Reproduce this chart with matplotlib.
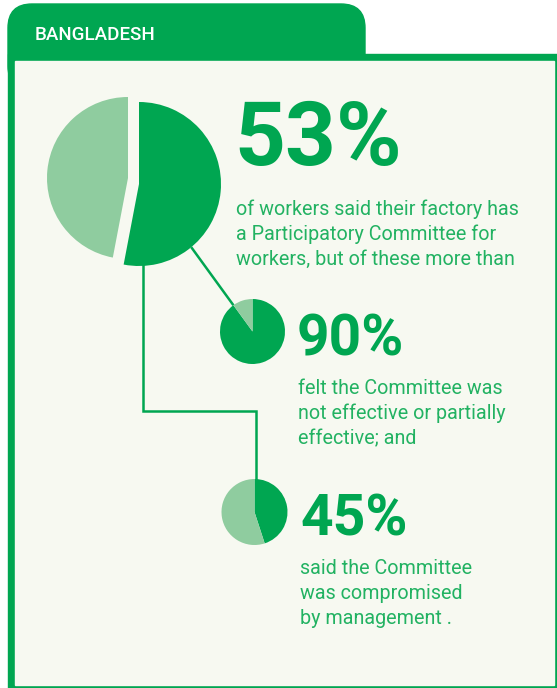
import numpy as np
import matplotlib.pyplot as plt
from matplotlib.patches import Rectangle, FancyBboxPatch

W, H = 557, 688
DARK, LIGHT, BG, TXT = '#00a651', '#8fcc9f', '#f7f9f1', '#22b262'

country = 'BANGLADESH'
has_committee = [53, 47]      # yes / no
not_effective = [90, 10]      # not / partly effective vs effective
compromised = [45, 55]        # compromised vs not
headlines = ['53%', '90%', '45%']
captions = [
    ['of workers said their factory has',
     'a Participatory Committee for',
     'workers, but of these more than'],
    ['felt the Committee was',
     'not effective or partially',
     'effective; and'],
    ['said the Committee',
     'was compromised',
     'by management .'],
]

plt.rcParams['font.family'] = ['Roboto', 'DejaVu Sans']

fig = plt.figure(figsize=(W / 100, H / 100), dpi=100, facecolor='white')
ax = fig.add_axes([0, 0, 1, 1])


def Y(y):
    # image pixel rows (top-down) -> data y
    return H - y


# frame and tab
ax.add_patch(Rectangle((8, Y(688)), W - 8, 688 - 54, color=DARK, zorder=0))
ax.add_patch(FancyBboxPatch((8, Y(90)), 357, 86, boxstyle='round,pad=0,rounding_size=24',
                            color=DARK, zorder=0.5))
ax.add_patch(Rectangle((15, Y(685)), 554 - 15, 685 - 61, color=BG, zorder=1))
ax.text(35, Y(40), country, color='white', fontsize=13.5, fontweight='medium',
        va='baseline', ha='left', zorder=5)

# big pie, the two slices pulled apart
pie_kw = dict(startangle=90, counterclock=False, wedgeprops=dict(linewidth=0), frame=False)
ax.pie(has_committee, center=(139, Y(184)), radius=82, colors=[DARK, 'none'], **pie_kw)
ax.pie(has_committee, center=(128, Y(178)), radius=81, colors=['none', LIGHT], **pie_kw)

# small pies
c1, r1 = np.array([252.5, Y(331.5)]), 32.5
c2, r2 = np.array([254.5, Y(512)]), 33
ax.pie(not_effective, center=tuple(c1), radius=r1, colors=[DARK, LIGHT], **pie_kw)
ax.pie(compromised, center=tuple(c2), radius=r2, colors=[DARK, LIGHT], **pie_kw)

# connector 1: along the boundary of the 10% slice, up to the big pie's edge
ang = np.deg2rad(90 + not_effective[1] / 100 * 360)
d = np.array([np.cos(ang), np.sin(ang)])
big_c, big_r = np.array([139, Y(184)]), 82
f = c1 - big_c
b = f @ d
t = -b - np.sqrt(b * b - (f @ f - big_r ** 2))
p0 = c1 + r1 * d
p1 = c1 + t * d
ax.plot([p0[0], p1[0]], [p0[1], p1[1]], color=DARK, lw=1.8, zorder=1.5,
        solid_capstyle='butt')

# connector 2: elbow from big pie to the bottom pie
ax.plot([143, 143, 255.5, 255.5], [Y(262), Y(411), Y(411), Y(480)], color=DARK,
        lw=1.8, zorder=1.5, solid_joinstyle='miter')

# texts
num_pos = [(234, 165, 64), (297, 355, 41), (300, 535, 41)]
cap_pos = [(236, 215), (298, 394), (300, 574)]
for head, (x, yb, fs), lines, (cx, cy) in zip(headlines, num_pos, captions, cap_pos):
    ax.text(x, Y(yb), head, color=DARK, fontsize=fs, fontweight='bold',
            va='baseline', ha='left', zorder=5)
    for i, line in enumerate(lines):
        ax.text(cx, Y(cy + 25 * i), line, color=TXT, fontsize=14.2,
                va='baseline', ha='left', zorder=5)

ax.set_xlim(0, W)
ax.set_ylim(0, H)
ax.set_aspect('equal')
ax.axis('off')
fig.savefig('out.png', dpi=100, facecolor='white')
